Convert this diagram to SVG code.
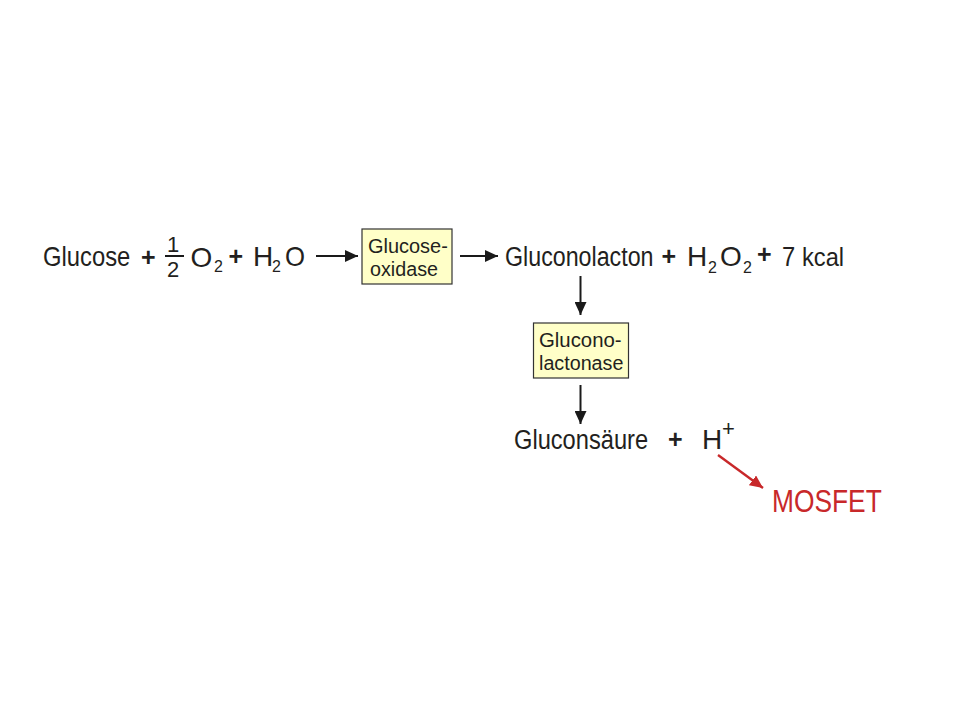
<svg xmlns="http://www.w3.org/2000/svg" width="960" height="720" viewBox="0 0 960 720">
<style>
text{font-family:"Liberation Sans",Arial,sans-serif;fill:#231f20}
.m{font-size:28px}.s{font-size:16px}.e{font-size:22px}.b{font-size:21px}
.k{font-size:26px}
.p{font-size:25px;font-weight:bold}
.red{font-size:31px;fill:#c8282a}
.box{fill:#ffffc8;stroke:#333;stroke-width:1.2}
.c{stroke:#1a1a1a;stroke-width:2;fill:none;marker-end:url(#a)}
</style>
<defs>
<marker id="a" markerUnits="userSpaceOnUse" markerWidth="14" markerHeight="12" refX="13" refY="6" orient="auto"><path d="M0 0L13 6L0 12z" fill="#1a1a1a"/></marker>
<marker id="r" markerUnits="userSpaceOnUse" markerWidth="14" markerHeight="12" refX="13" refY="6" orient="auto"><path d="M0 0L13 6L0 12z" fill="#c8282a"/></marker>
</defs>
<rect width="960" height="720" fill="#fff"/>
<g id="connectors">
<path class="c" d="M316 256H358"/>
<path class="c" d="M460 256H498"/>
<path class="c" d="M580.500 276V315"/>
<path class="c" d="M580.500 385V424"/>
<path d="M718 455L763 488" stroke="#c8282a" stroke-width="2.4" fill="none" marker-end="url(#r)"/>
</g>
<g id="reactants">
<text class="m" transform="translate(43 266) scale(.85 1)">Glucose</text>
<text class="p" x="141" y="266">+</text>
<text class="e" x="167" y="252">1</text>
<rect x="165" y="255" width="19" height="2" fill="#1a1a1a"/>
<text class="e" x="167" y="277">2</text>
<text class="m" x="190.500" y="267">O</text>
<text class="s" x="214" y="272">2</text>
<text class="p" x="228.500" y="265">+</text>
<text class="m" x="253" y="266">H</text>
<text class="s" x="272" y="272">2</text>
<text class="m" transform="translate(285 266) scale(.92 1)">O</text>
</g>
<g id="glucose-oxidase">
<rect class="box" x="362" y="229" width="90" height="55"/>
<text class="b" transform="translate(368 253) scale(.95 1)">Glucose-</text>
<text class="b" transform="translate(370 276) scale(.94 1)">oxidase</text>
</g>
<g id="products">
<text class="m" transform="translate(505 266) scale(.83 1)">Gluconolacton</text>
<text class="p" x="661.500" y="265">+</text>
<text class="m" x="687" y="266">H</text>
<text class="s" x="708" y="273">2</text>
<text class="m" x="720" y="266">O</text>
<text class="s" x="743" y="273">2</text>
<text class="p" x="757" y="263">+</text>
<text class="m" transform="translate(782 266) scale(.85 1)">7</text>
<text class="k" transform="translate(802 266) scale(.91 1)">kcal</text>
</g>
<g id="glucono-lactonase">
<rect class="box" x="533.500" y="323" width="95" height="55"/>
<text class="b" transform="translate(539 347) scale(.97 1)">Glucono-</text>
<text class="b" transform="translate(539 370) scale(.94 1)">lactonase</text>
</g>
<g id="acid">
<text class="m" transform="translate(514 449) scale(.845 1)">Gluconsäure</text>
<text class="p" x="668" y="448">+</text>
<text class="m" x="702" y="449">H</text>
<text class="e" x="722" y="436">+</text>
</g>
<g id="mosfet">
<text class="red" transform="translate(772 512) scale(.85 1)">MOSFET</text>
</g>
</svg>
